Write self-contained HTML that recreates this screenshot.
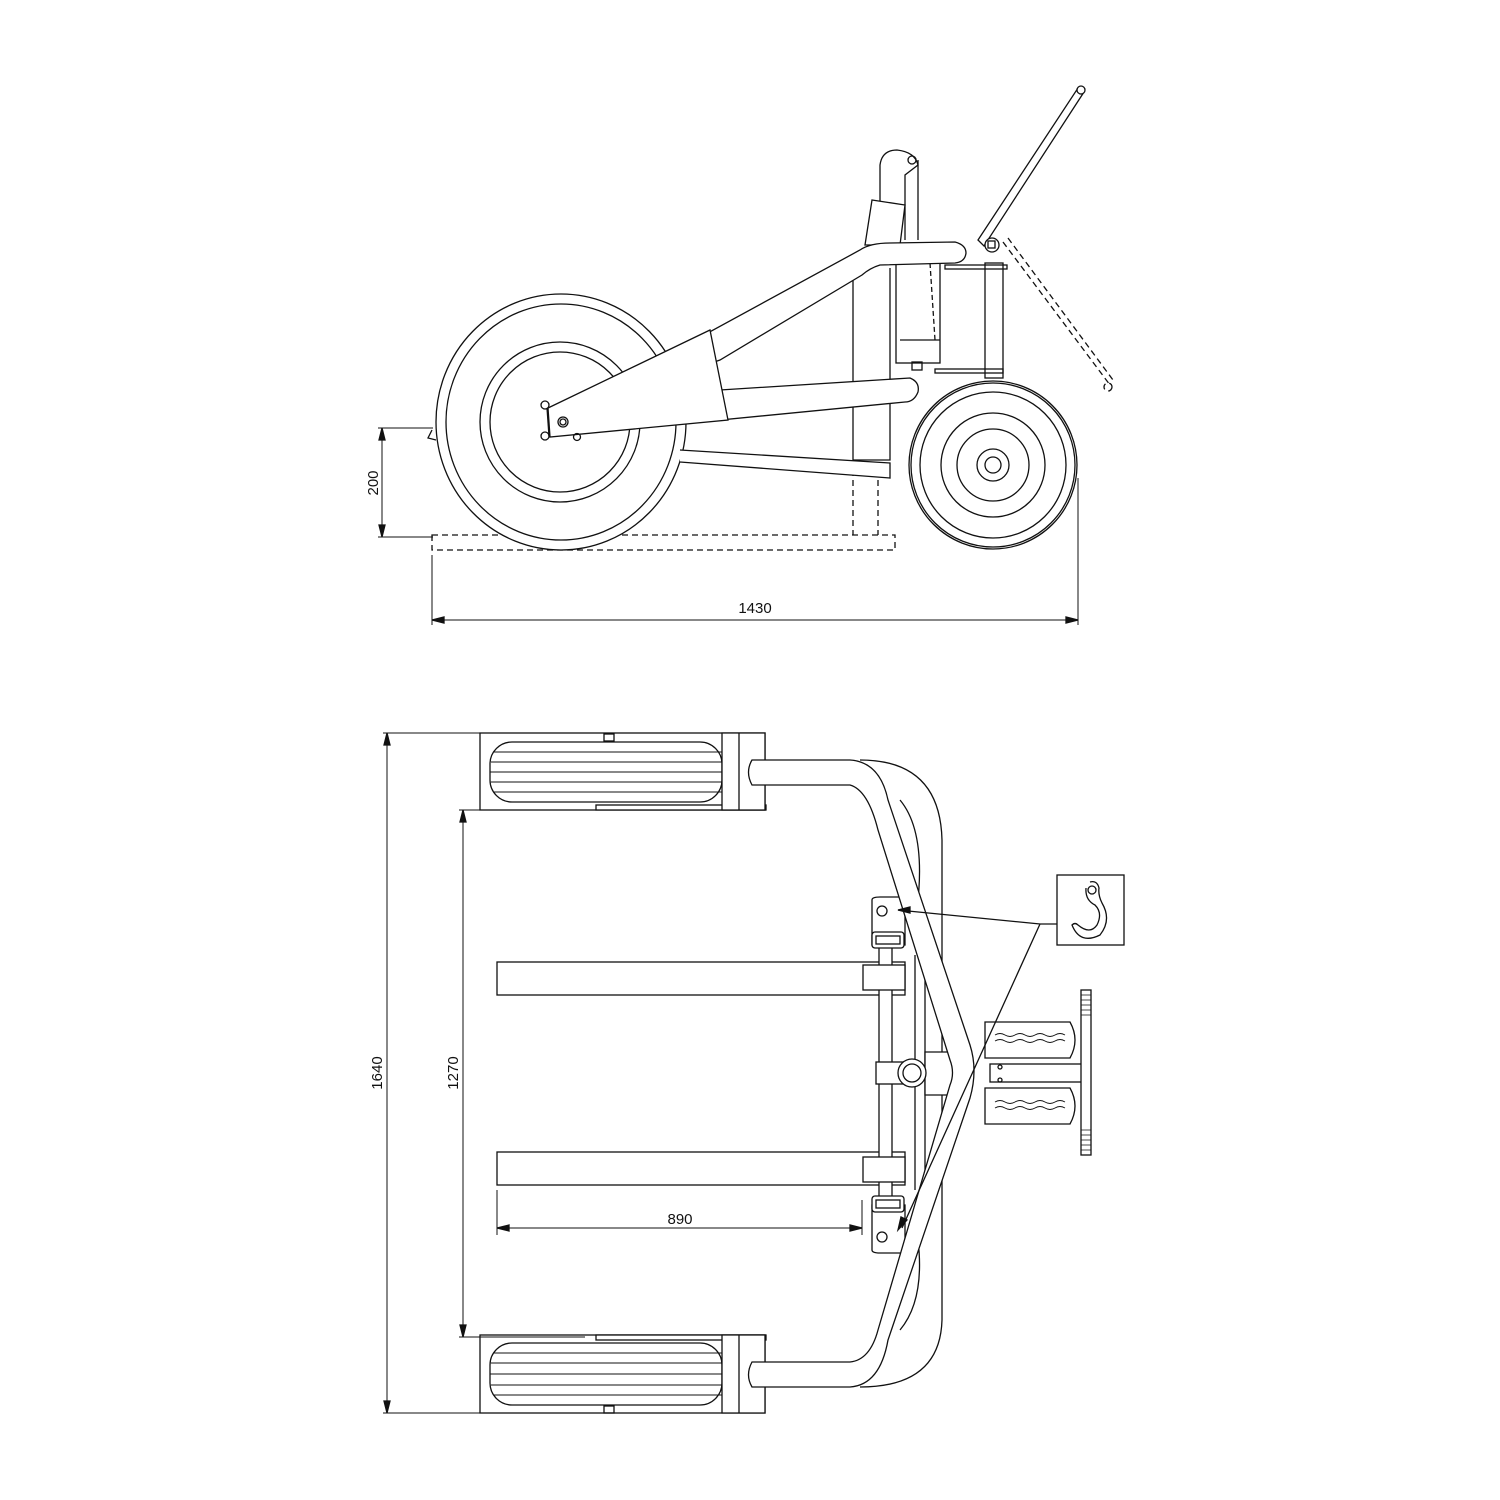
<!DOCTYPE html>
<html><head><meta charset="utf-8"><style>html,body{margin:0;padding:0;background:#fff}svg{display:block}text{font-family:"Liberation Sans",sans-serif;font-size:15px;fill:#111}</style></head>
<body>
<svg width="1500" height="1500" viewBox="0 0 1500 1500" xmlns="http://www.w3.org/2000/svg" fill="none" stroke="#111" stroke-width="1.3">
<g stroke-dasharray="6,4">
<rect x="432" y="535" width="463" height="15"/>
<line x1="853" y1="470" x2="853" y2="535"/>
<line x1="878" y1="470" x2="878" y2="535"/>
<path d="M1003,242 L1110,385 M1008,238 L1113,380"/>
<circle cx="1108" cy="387" r="4"/>
</g>
<ellipse cx="561" cy="422" rx="125" ry="128" fill="#fff"/>
<ellipse cx="561" cy="422" rx="115" ry="118"/>
<ellipse cx="560" cy="422" rx="80" ry="80"/>
<ellipse cx="560" cy="422" rx="70" ry="70"/>
<path d="M432,430 L428,438 L436,440"/>
<path d="M680,450 L890,463 L890,478 L680,462" fill="#fff"/>
<path d="M853,268 L853,460 L890,460 L890,268" fill="#fff"/>
<rect x="896" y="263" width="44" height="100" fill="#fff"/>
<line x1="900" y1="340" x2="940" y2="340"/>
<line x1="930" y1="263" x2="935" y2="340" stroke-dasharray="5,3"/>
<rect x="912" y="362" width="10" height="8"/>
<path d="M880,230 L880,165 Q882,150 897,150 Q915,152 918,165 L905,175 L905,240" fill="#fff"/>
<circle cx="912" cy="160" r="4"/>
<line x1="918" y1="160" x2="918" y2="240"/>
<path d="M872,200 L905,205 L900,245 L865,245 Z" fill="#fff"/>
<rect x="985" y="263" width="18" height="115" fill="#fff"/>
<rect x="945" y="265" width="62" height="4"/>
<rect x="935" y="369" width="68" height="4"/>
<path d="M548,420 L860,250 Q870,243 890,243 L955,242 Q966,245 966,253 Q965,262 955,263 L880,265 Q870,268 862,275 L720,360 Z" fill="#fff"/>
<path d="M720,390 L910,378 Q920,382 918,392 Q914,402 905,402 L720,420 Z" fill="#fff"/>
<path d="M548,408 L710,330 L728,420 L550,437 Z" fill="#fff"/>
<line x1="547" y1="408" x2="549" y2="436"/>
<circle cx="545" cy="405" r="4"/><circle cx="545" cy="436" r="4"/><circle cx="563" cy="422" r="5"/><circle cx="563" cy="422" r="3"/><circle cx="577" cy="437" r="3.5"/>
<path d="M978,240 L1078,88 L1084,92 L984,246 Z" fill="#fff"/>
<circle cx="1081" cy="90" r="4" fill="#fff"/>
<circle cx="992" cy="245" r="7" fill="#fff"/><rect x="988" y="241" width="7" height="7"/>
<circle cx="993" cy="465" r="84" fill="#fff"/>
<circle cx="993" cy="465" r="82"/>
<circle cx="993" cy="465" r="73"/>
<circle cx="993" cy="465" r="52"/>
<circle cx="993" cy="465" r="36"/>
<circle cx="993" cy="465" r="16"/>
<circle cx="993" cy="465" r="8"/>
<line x1="378" y1="428" x2="433" y2="428" stroke-width="1"/>
<line x1="378" y1="537" x2="433" y2="537" stroke-width="1"/>
<line x1="382" y1="428" x2="382" y2="537" stroke-width="1"/>
<path d="M382,428 l-3,12 l6,0 Z M382,537 l-3,-12 l6,0 Z" fill="#111"/>
<text x="378" y="483" text-anchor="middle" transform="rotate(-90 378 483)" stroke="none">200</text>
<line x1="432" y1="555" x2="432" y2="625" stroke-width="1"/>
<line x1="1078" y1="478" x2="1078" y2="625" stroke-width="1"/>
<line x1="432" y1="620" x2="1078" y2="620" stroke-width="1"/>
<path d="M432,620 l12,-3 l0,6 Z M1078,620 l-12,-3 l0,6 Z" fill="#111"/>
<text x="755" y="613" text-anchor="middle" stroke="none">1430</text>

<path d="M860,760 Q940,760 942,840 L942,1320 Q940,1387 860,1387"/>
<path d="M900,800 Q925,830 918,900 M900,1330 Q925,1300 918,1240"/>
<line x1="915" y1="955" x2="915" y2="1190"/>
<line x1="925" y1="960" x2="925" y2="1185"/>
<rect x="497" y="962" width="408" height="33" fill="#fff"/>
<rect x="497" y="1152" width="408" height="33" fill="#fff"/>
<rect x="879" y="935" width="13" height="265" fill="#fff"/>
<rect x="863" y="965" width="42" height="25" fill="#fff"/>
<rect x="863" y="1157" width="42" height="25" fill="#fff"/>
<path d="M872,900 Q872,897 880,897 L905,897 L905,945 L872,945 Z" fill="#fff"/><circle cx="882" cy="911" r="5"/>
<rect x="872" y="932" width="32" height="16" rx="3" fill="#fff"/><rect x="876" y="936" width="24" height="8"/>
<path d="M872,1250 Q872,1253 880,1253 L905,1253 L905,1205 L872,1205 Z" fill="#fff"/><circle cx="882" cy="1237" r="5"/>
<rect x="872" y="1196" width="32" height="16" rx="3" fill="#fff"/><rect x="876" y="1200" width="24" height="8"/>
<rect x="876" y="1062" width="42" height="22" fill="#fff"/>
<path d="M925,1052 L950,1052 Q960,1075 950,1095 L925,1095 Z" fill="#fff"/>
<circle cx="912" cy="1073" r="14" fill="#fff"/><circle cx="912" cy="1073" r="9"/>
<path d="M985,1022 L1070,1022 Q1080,1040 1070,1058 L985,1058 Z" fill="#fff"/>
<path d="M985,1088 L1070,1088 Q1080,1106 1070,1124 L985,1124 Z" fill="#fff"/>
<path d="M995,1035 q5,-3 10,0 t10,0 t10,0 t10,0 t10,0 t10,0 t10,0 M995,1041 q5,-3 10,0 t10,0 t10,0 t10,0 t10,0 t10,0 t10,0 M995,1102 q5,-3 10,0 t10,0 t10,0 t10,0 t10,0 t10,0 t10,0 M995,1108 q5,-3 10,0 t10,0 t10,0 t10,0 t10,0 t10,0 t10,0" stroke-width="0.9"/>
<rect x="990" y="1064" width="92" height="18" fill="#fff"/>
<circle cx="1000" cy="1067" r="2"/><circle cx="1000" cy="1080" r="2"/>
<rect x="1081" y="990" width="10" height="165" fill="#fff"/>
<path d="M1081,995 h10 M1081,1000 h10 M1081,1005 h10 M1081,1010 h10 M1081,1015 h10 M1081,1130 h10 M1081,1135 h10 M1081,1140 h10 M1081,1145 h10 M1081,1150 h10" stroke-width="0.8"/>
<rect x="480" y="733" width="285" height="77"/>
<rect x="596" y="805" width="170" height="5" fill="#fff"/>
<rect x="490" y="742" width="232" height="60" rx="22" fill="#fff"/>
<path d="M493,752 H722 M491,762 H722 M490,772 H722 M491,782 H722 M493,792 H722" stroke-width="1"/>
<path d="M722,733 H765 V810 H722 Z" fill="#fff"/><line x1="739" y1="733" x2="739" y2="810"/>
<rect x="604" y="734" width="10" height="7"/>
<rect x="480" y="1335" width="285" height="78"/>
<rect x="596" y="1335" width="170" height="5" fill="#fff"/>
<rect x="490" y="1343" width="232" height="62" rx="22" fill="#fff"/>
<path d="M493,1353 H722 M491,1363 H722 M490,1374 H722 M491,1385 H722 M493,1395 H722" stroke-width="1"/>
<path d="M722,1335 H765 V1413 H722 Z" fill="#fff"/><line x1="739" y1="1335" x2="739" y2="1413"/>
<rect x="604" y="1406" width="10" height="7"/>
<path d="M752,760 L850,760 Q880,762 888,800 L970,1045 Q978,1070 970,1098 L888,1340 Q880,1385 850,1387 L752,1387 Q745,1375 752,1362 L850,1362 Q870,1360 878,1330 L950,1085 Q955,1073 950,1060 L878,830 Q868,790 850,785 L752,785 Q745,772 752,760 Z" fill="#fff"/>
<path d="M1057,924 L1040,924 L898,910 M1040,924 L902,1228"/>
<path d="M898,910 l12,-3 l0,6 Z M898,1230 l3,-13 l6,3 Z" fill="#111"/>
<rect x="1057" y="875" width="67" height="70" fill="#fff"/>
<circle cx="1092" cy="890" r="4"/>
<path d="M1086,888 Q1085,900 1095,905 Q1103,913 1097,925 Q1090,935 1078,925 Q1075,922 1072,925 Q1080,945 1100,935 Q1112,920 1102,903 Q1098,895 1099,888 Q1097,880 1090,882"/>
<g stroke-width="1">
<line x1="383" y1="733" x2="740" y2="733"/><line x1="383" y1="1413" x2="760" y2="1413"/>
<line x1="387" y1="733" x2="387" y2="1413"/>
<line x1="459" y1="810" x2="585" y2="810"/><line x1="459" y1="1337" x2="585" y2="1337"/>
<line x1="463" y1="810" x2="463" y2="1337"/>
<line x1="497" y1="1190" x2="497" y2="1235"/><line x1="862" y1="1200" x2="862" y2="1235"/>
<line x1="497" y1="1228" x2="862" y2="1228"/>
</g>
<path d="M387,733 l-3,12 l6,0 Z M387,1413 l-3,-12 l6,0 Z M463,810 l-3,12 l6,0 Z M463,1337 l-3,-12 l6,0 Z M497,1228 l12,-3 l0,6 Z M862,1228 l-12,-3 l0,6 Z" fill="#111"/>
<text x="382" y="1073" text-anchor="middle" transform="rotate(-90 382 1073)" stroke="none">1640</text>
<text x="458" y="1073" text-anchor="middle" transform="rotate(-90 458 1073)" stroke="none">1270</text>
<text x="680" y="1224" text-anchor="middle" stroke="none">890</text>
</svg>
</body></html>
